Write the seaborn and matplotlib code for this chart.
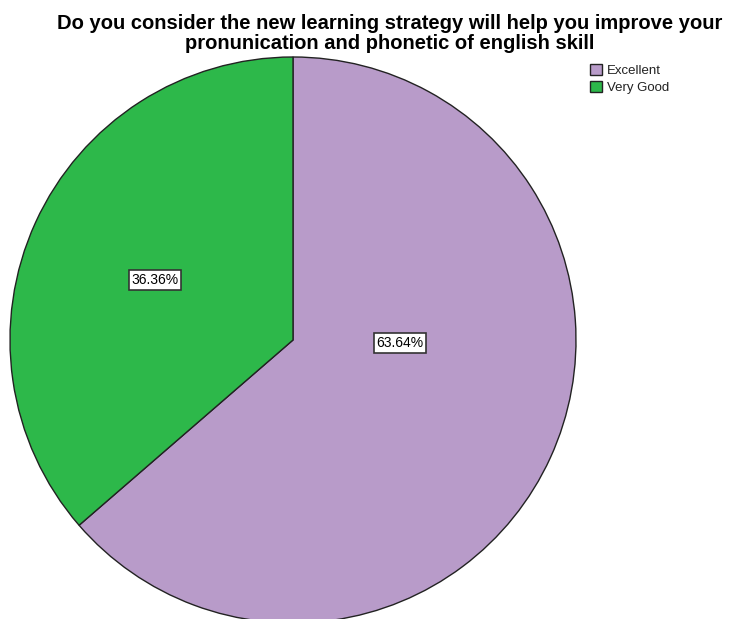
import numpy as np
import seaborn as sns
import matplotlib.pyplot as plt

categories = ["Excellent", "Very Good"]
percentages = [63.64, 36.36]
colors = ["#B89BC9", "#2DB84A"]

sns.set_style("white")
plt.rcParams['font.family'] = ['Liberation Sans', 'DejaVu Sans']
plt.rcParams['text.color'] = 'black'

fig = plt.figure(figsize=(7.29, 6.19), dpi=100)
ax = fig.add_axes([0, 0, 1, 1])

wedges, _ = ax.pie(percentages, colors=colors, startangle=90, counterclock=False,
                   center=(293, 279), radius=283, frame=True,
                   wedgeprops=dict(edgecolor='#222222', linewidth=1.0))
ax.set_xlim(0, 729)
ax.set_ylim(0, 619)
ax.set_aspect('equal')
ax.axis('off')

# percentage labels, placed as in the original
label_pos = [(400, 276), (155, 339)]
for (x, y), p in zip(label_pos, percentages):
    ax.text(x, y, f"{p:.2f}%", ha='center', va='center', fontsize=10,
            bbox=dict(boxstyle='square,pad=0.2', facecolor='white',
                      edgecolor='#333333', linewidth=1.2))

ax.legend(wedges, categories, loc='upper left', bbox_to_anchor=(0.802, 0.905),
          frameon=False, fontsize=9.5, handlelength=0.9, handleheight=0.9,
          handletextpad=0.4, labelspacing=0.3, borderaxespad=0,
          labelcolor='#222222')

fig.text(0.535, 0.978, "Do you consider the new learning strategy will help you improve your\n"
         "pronunication and phonetic of english skill",
         ha='center', va='top', fontsize=14.5, fontweight='bold', linespacing=1.1,
         color='black')

fig.savefig("out.png", dpi=100)
